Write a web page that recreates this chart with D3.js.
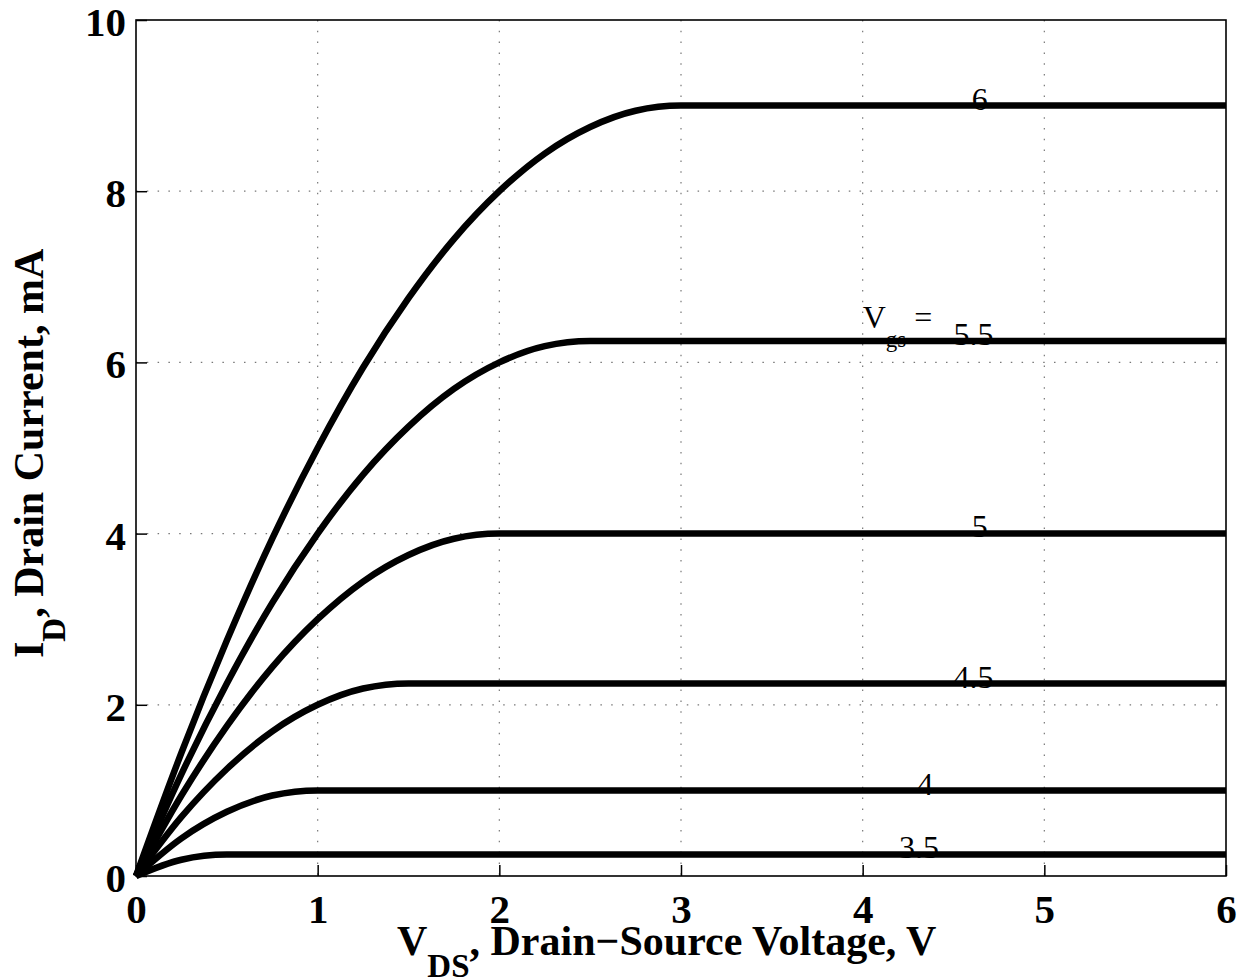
<!DOCTYPE html>
<html>
<head>
<meta charset="utf-8">
<script src="https://cdn.jsdelivr.net/npm/d3@7"></script>
<style>
  body { margin: 0; background: #fff; }
  svg { display: block; font-family: "Liberation Serif", "Times New Roman", serif; }
</style>
</head>
<body>
<svg id="chart" width="1255" height="980"></svg>
<script>
// drain-source voltage samples (V)
let vds = [0, 0.25, 0.5, 0.75, 1, 1.25, 1.5, 1.75, 2, 2.25, 2.5, 2.75, 3, 6];
// drain current (mA) per gate voltage
let id60 = [0, 1.44, 2.75, 3.94, 5, 5.94, 6.75, 7.44, 8, 8.44, 8.75, 8.94, 9, 9];
let id55 = [0, 1.19, 2.25, 3.19, 4, 4.69, 5.25, 5.69, 6, 6.19, 6.25, 6.25, 6.25, 6.25];
let id50 = [0, 0.94, 1.75, 2.44, 3, 3.44, 3.75, 3.94, 4, 4, 4, 4, 4, 4];
let id45 = [0, 0.69, 1.25, 1.69, 2, 2.19, 2.25, 2.25, 2.25, 2.25, 2.25, 2.25, 2.25, 2.25];
let id40 = [0, 0.44, 0.75, 0.94, 1, 1, 1, 1, 1, 1, 1, 1, 1, 1];
let id35 = [0, 0.19, 0.25, 0.25, 0.25, 0.25, 0.25, 0.25, 0.25, 0.25, 0.25, 0.25, 0.25, 0.25];

let xTicks = [0, 1, 2, 3, 4, 5, 6];
let yTicks = [0, 2, 4, 6, 8, 10];

// curve labels, in data units (V, mA)
let labels = [
  { text: '6', x: 4.6, y: 8.95 },
  { text: '5.5', x: 4.5, y: 6.2 },
  { text: '5', x: 4.6, y: 3.96 },
  { text: '4.5', x: 4.5, y: 2.2 },
  { text: '4', x: 4.3, y: 0.95 },
  { text: '3.5', x: 4.2, y: 0.21 }
];

let curves = [id60, id55, id50, id45, id40, id35];

let svg = d3.select('#chart');
let margin = { top: 20, right: 29, bottom: 104, left: 136 };
let width = 1255 - margin.left - margin.right;
let height = 980 - margin.top - margin.bottom;

let xScale = d3.scaleLinear().domain([0, 6]).range([0, width]);
let yScale = d3.scaleLinear().domain([0, 10]).range([height, 0]);

let g = svg.append('g').attr('transform', `translate(${margin.left},${margin.top})`);

// dotted grid
g.selectAll('.gx')
  .data(xTicks.slice(1, -1))
  .enter()
  .append('line')
  .attr('x1', d => xScale(d)).attr('x2', d => xScale(d))
  .attr('y1', 0).attr('y2', height)
  .attr('stroke', '#777').attr('stroke-width', 1.2)
  .attr('stroke-dasharray', '1.5,9.3');
g.selectAll('.gy')
  .data(yTicks.slice(1, -1))
  .enter()
  .append('line')
  .attr('y1', d => yScale(d)).attr('y2', d => yScale(d))
  .attr('x1', 0).attr('x2', width)
  .attr('stroke', '#777').attr('stroke-width', 1.2)
  .attr('stroke-dasharray', '1.5,9.3');

// axes: ticks pointing inward
let xAxis = d3.axisBottom(xScale).tickValues(xTicks).tickFormat(d3.format('d'))
  .tickSizeInner(-11).tickSizeOuter(0).tickPadding(18);
let yAxis = d3.axisLeft(yScale).tickValues(yTicks).tickFormat(d3.format('d'))
  .tickSizeInner(-11).tickSizeOuter(0).tickPadding(10);

let gx = g.append('g').attr('transform', `translate(0,${height})`).call(xAxis);
let gy = g.append('g').call(yAxis);
[gx, gy].forEach(ax => {
  ax.select('.domain').remove();
  ax.selectAll('line').attr('stroke', '#000').attr('stroke-width', 1.5);
  ax.selectAll('text')
    .attr('fill', '#000')
    .style('font-family', '"Liberation Serif", serif')
    .style('font-weight', 'bold')
    .style('font-size', '41px');
});
gx.selectAll('text').attr('dy', '0.71em');
gy.selectAll('text').attr('dy', '0.38em');

// box
g.append('rect')
  .attr('width', width).attr('height', height)
  .attr('fill', 'none').attr('stroke', '#000').attr('stroke-width', 1.6);

// curves
let line = d3.line()
  .x((d, i) => xScale(vds[i]))
  .y(d => yScale(d))
  .curve(d3.curveMonotoneX);

g.selectAll('.curve')
  .data(curves)
  .enter()
  .append('path')
  .attr('class', 'curve')
  .attr('d', line)
  .attr('fill', 'none')
  .attr('stroke', '#000')
  .attr('stroke-width', 6.5)
  .attr('stroke-linejoin', 'round');

// curve labels
g.selectAll('.lbl')
  .data(labels)
  .enter()
  .append('text')
  .attr('x', d => xScale(d.x))
  .attr('y', d => yScale(d.y))
  .attr('font-size', 32)
  .text(d => d.text);

let vgs = g.append('text')
  .attr('x', xScale(4.0))
  .attr('y', yScale(6.4))
  .attr('font-size', 32);
vgs.append('tspan').text('V');
vgs.append('tspan').attr('dy', 19).attr('font-size', 23).text('gs');
vgs.append('tspan').attr('dy', -19).text(' =');

// axis titles
let xt = svg.append('text')
  .attr('x', 397).attr('y', 955)
  .attr('font-weight', 'bold')
  .attr('font-size', 42);
xt.append('tspan').text('V');
xt.append('tspan').attr('dy', 22).attr('font-size', 33).text('DS');
xt.append('tspan').attr('dy', -22).text(', Drain\u2212Source Voltage, V');

let yt = svg.append('text')
  .attr('transform', 'translate(43,658) rotate(-90)')
  .attr('font-weight', 'bold')
  .attr('font-size', 42);
yt.append('tspan').text('I');
yt.append('tspan').attr('dy', 22).attr('font-size', 33).text('D');
yt.append('tspan').attr('dy', -22).text(', Drain Current, mA');
</script>
</body>
</html>
